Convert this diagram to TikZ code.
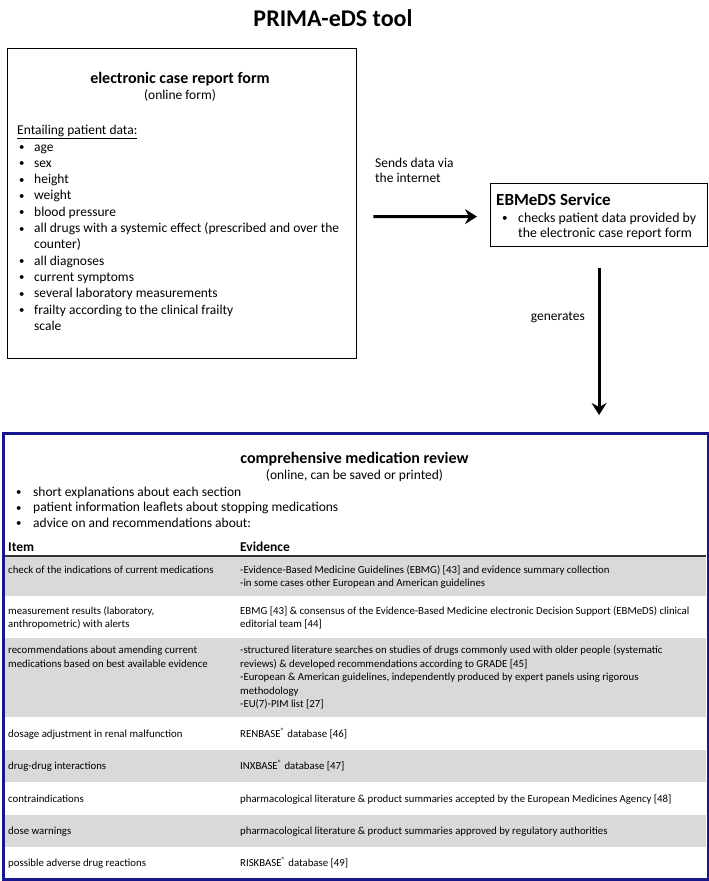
\documentclass[tikz,border=0pt]{standalone}
\usepackage{fontspec}
\setmainfont{Carlito}
\usetikzlibrary{arrows.meta}
\definecolor{navy}{RGB}{24,24,140}
\definecolor{rowgray}{RGB}{217,217,217}
\newcommand{\regm}{\textsuperscript{®}}
\newcommand{\smbul}{\raisebox{0.5pt}{\scalebox{0.8}{\textbullet}}}
\begin{document}
\begin{tikzpicture}[x=1pt,y=-1pt,
  txt/.style={anchor=base west, inner sep=0, font=\fontsize{13.5}{16}\selectfont},
  ebmtxt/.style={anchor=base west, inner sep=0, font=\fontsize{13.8}{16}\selectfont},
  ttl/.style={anchor=base, inner sep=0, font=\fontsize{16}{19}\selectfont\bfseries},
  sub/.style={anchor=base, inner sep=0, font=\fontsize{13.5}{16}\selectfont},
  tab/.style={anchor=base west, inner sep=0, font=\fontsize{10.8}{13}\selectfont},
  tabhead/.style={anchor=base west, inner sep=0, font=\fontsize{13.5}{16}\selectfont\bfseries},
  bigarrow/.style={line width=3pt, -{Stealth[length=12pt,width=15pt,inset=4pt]}},
  boxframe/.style={draw, anchor=north west, inner sep=0},
]
\useasboundingbox (0,0) rectangle (709,881);

% title
\node[anchor=base, inner sep=0, font=\fontsize{24}{28}\selectfont\bfseries] (title) at (333,26) {PRIMA-eDS tool};

% electronic case report form
\node[boxframe, line width=1.4pt, minimum width=349pt, minimum height=310pt] (ecrf) at (7,48) {};
\node[ttl] (ecrftitle) at (180,83) {electronic case report form};
\node[sub] (ecrfsub) at (180,99) {(online form)};
\node[txt] (ent) at (17,134) {\underline{Entailing patient data:}};
\foreach \yy/\lbl [count=\i] in {151/age, 167.3/sex, 183.6/height, 199.9/weight, 216.2/blood pressure,
  232.5/all drugs with a systemic effect (prescribed and over the, 265.1/all diagnoses,
  281.4/current symptoms, 297.7/several laboratory measurements, 314/frailty according to the clinical frailty}
{
  \node[txt] (cb\i) at (19,\yy) {\smbul};
  \node[txt] (cd\i) at (34,\yy) {\lbl};
}
\node[txt] (cd6b) at (34,248.8) {counter)};
\node[txt] (cd10b) at (34,330.3) {scale};

% EBMeDS service
\node[boxframe, line width=1.2pt, minimum width=217pt, minimum height=63pt] (ebm) at (490,183) {};
\node[anchor=base west, inner sep=0, font=\fontsize{17}{20}\selectfont\bfseries] (ebmt) at (496,205) {EBMeDS Service};
\node[ebmtxt] (ebmb) at (502,222) {\smbul};
\node[ebmtxt] (ebm1) at (518,222) {checks patient data provided by};
\node[ebmtxt] (ebm2) at (518,237.5) {the electronic case report form};

% connectors
\node[txt] (send1) at (375,167) {Sends data via};
\node[txt] (send2) at (375,182.5) {the internet};
\draw[bigarrow] ([xshift=16pt,yshift=-13pt]ecrf.east) -- ([xshift=-13pt,yshift=-1.5pt]ebm.west);

% review box background rows
\fill[rowgray] (3.5,556) rectangle (705.5,596);
\fill[rowgray] (3.5,638) rectangle (705.5,717);
\fill[rowgray] (3.5,750) rectangle (705.5,782);
\fill[rowgray] (3.5,815) rectangle (705.5,847);
\draw[line width=1.5pt, black!80] (3.5,556) -- (705.5,556);

\node[draw=navy, anchor=north west, inner sep=0, line width=2.5pt, minimum width=705pt, minimum height=446pt] (review) at (2,432) {};
\node[anchor=base east, inner sep=0, font=\fontsize{13.5}{16}\selectfont] (gen) at (585,320) {generates};
\draw[bigarrow] ([yshift=-21pt]ebm.south) -- ([yshift=17pt]ebm.south |- review.north);

\node[ttl] (revt) at (354.5,463) {comprehensive medication review};
\node[sub] (revs) at (354.5,479) {(online, can be saved or printed)};
\foreach \yy/\lbl [count=\i] in {496/short explanations about each section,
  511.5/patient information leaflets about stopping medications,
  527/advice on and recommendations about:}
{
  \node[txt] (rb\i) at (16,\yy) {\smbul};
  \node[txt] (rd\i) at (33,\yy) {\lbl};
}
\node[tabhead] (hitem) at (8,551) {Item};
\node[tabhead] (hevid) at (240,551) {Evidence};

% row 1
\node[tab] (r1a) at (8,573) {check of the indications of current medications};
\node[tab] (r1b) at (240,573) {-Evidence-Based Medicine Guidelines (EBMG) [43] and evidence summary collection};
\node[tab] (r1c) at (240,586.5) {-in some cases other European and American guidelines};
% row 2
\node[tab] (r2a) at (8,614) {measurement results (laboratory,};
\node[tab] (r2a2) at (8,627.5) {anthropometric) with alerts};
\node[tab] (r2b) at (240,614) {EBMG [43] \& consensus of the Evidence-Based Medicine electronic Decision Support (EBMeDS) clinical};
\node[tab] (r2c) at (240,627.5) {editorial team [44]};
% row 3
\node[tab] (r3a) at (8,653.5) {recommendations about amending current};
\node[tab] (r3a2) at (8,667) {medications based on best available evidence};
\node[tab] (r3b) at (240,653.5) {-structured literature searches on studies of drugs commonly used with older people (systematic};
\node[tab] (r3c) at (240,667) {reviews) \& developed recommendations according to GRADE [45]};
\node[tab] (r3d) at (240,680.5) {-European \& American guidelines, independently produced by expert panels using rigorous};
\node[tab] (r3e) at (240,694) {methodology};
\node[tab] (r3f) at (240,707.5) {-EU(7)-PIM list [27]};
% rows 4-8
\node[tab] (r4a) at (8,737) {dosage adjustment in renal malfunction};
\node[tab] (r4b) at (240,737) {RENBASE\regm\ database [46]};
\node[tab] (r5a) at (8,769.5) {drug-drug interactions};
\node[tab] (r5b) at (240,769.5) {INXBASE\regm\ database [47]};
\node[tab] (r6a) at (8,802) {contraindications};
\node[tab] (r6b) at (240,802) {pharmacological literature \& product summaries accepted by the European Medicines Agency [48]};
\node[tab] (r7a) at (8,834.5) {dose warnings};
\node[tab] (r7b) at (240,834.5) {pharmacological literature \& product summaries approved by regulatory authorities};
\node[tab] (r8a) at (8,866) {possible adverse drug reactions};
\node[tab] (r8b) at (240,866) {RISKBASE\regm\ database [49]};
\end{tikzpicture}
\end{document}
